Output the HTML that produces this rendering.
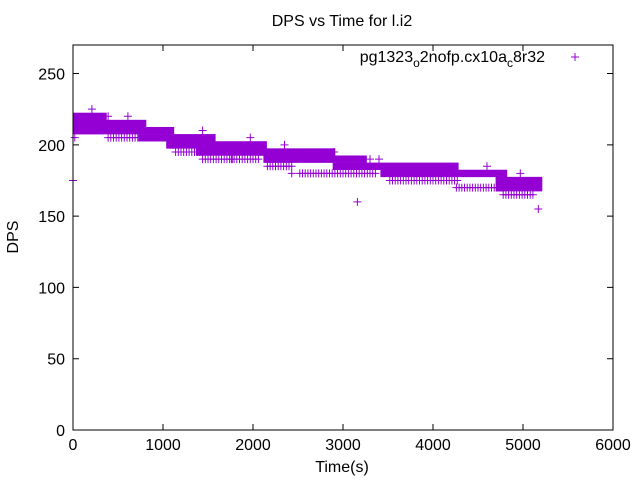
<!DOCTYPE html>
<html><head><meta charset="utf-8"><style>
body{margin:0;background:#fff}
svg text{font-family:"Liberation Sans",sans-serif;font-size:16px;fill:#000}
</style></head><body>
<svg id="chart" width="640" height="480" xmlns="http://www.w3.org/2000/svg">
<rect width="640" height="480" fill="#fff"/>
<text x="342" y="26" text-anchor="middle">DPS vs Time for l.i2</text>
<text transform="translate(18,237) rotate(-90)" text-anchor="middle">DPS</text>
<text x="342" y="472" text-anchor="middle">Time(s)</text>
<g id="marks"></g>
<g id="axes"></g>
<text x="545" y="62" text-anchor="end">pg1323<tspan dy="5" font-size="12">o</tspan><tspan dy="-5">2nofp.cx10a</tspan><tspan dy="5" font-size="12">c</tspan><tspan dy="-5">8r32</tspan></text>
<g stroke="#9400d3" stroke-width="1"><line x1="571" y1="57" x2="579" y2="57"/><line x1="575" y1="53" x2="575" y2="61"/></g>
</svg>
<script>
// dense bands: [tStart, tEnd, dpsLevel]
const bandStart=[45,45,45,770,1080,1410,2160,2930,3460,4740,4740];
const bandEnd=[330,770,1080,1540,2110,2870,3220,4240,4780,5170,5170];
const bandLevel=[220,215,210,205,200,195,190,185,180,175,170];
// sparse rows of outliers
const rowStart=[45,390,1080,1140,1440,1760,2160,2520,3520,4260,4780,2000];
const rowEnd=[330,730,1250,1440,1780,2060,2440,3370,4270,4780,5120,2150];
const rowLevel=[210,205,200,195,190,190,185,180,175,170,165,195];
// isolated points
const ptT=[210,390,610,20,0,1440,1970,2350,2430,3160,5170,4600,4970,3300,3400,2900];
const ptV=[225,220,220,205,175,210,205,200,180,160,155,185,180,190,190,195];
const xTicks=[0,1000,2000,3000,4000,5000,6000];
const yTicks=[0,50,100,150,200,250];

const X0=73,X1=613,Y0=430,Y1=45,XMAX=6000,YMAX=270;
const sx=t=>X0+t/XMAX*(X1-X0);
const sy=v=>Y0-v/YMAX*(Y0-Y1);
const NS="http://www.w3.org/2000/svg";
const marks=document.getElementById('marks');
const axes=document.getElementById('axes');
const col="#9400d3";
function mk(tag,attrs,parent){const e=document.createElementNS(NS,tag);for(const k in attrs)e.setAttribute(k,attrs[k]);parent.appendChild(e);return e;}
function plus(t,v){
  const x=sx(t),y=sy(v);
  const g=mk('path',{d:`M${x-4},${y}H${x+4}M${x},${y-4}V${y+4}`,stroke:col,'stroke-width':1,fill:'none'},marks);
  
  
}
for(let i=0;i<bandLevel.length;i++){
  const x1=sx(bandStart[i])-4,x2=sx(bandEnd[i])+4,y=sy(bandLevel[i]);
  const r=mk('rect',{x:x1,y:y-3.6,width:x2-x1,height:7.4,fill:col},marks);
  
  
}
for(let i=0;i<rowLevel.length;i++){
  for(let t=rowStart[i];t<=rowEnd[i];t+=30) plus(t,rowLevel[i]);
}
for(let i=0;i<ptT.length;i++) plus(ptT[i],ptV[i]);
const fr=mk('rect',{x:X0,y:Y1,width:X1-X0,height:Y0-Y1,fill:'none',stroke:'#000','stroke-width':1},axes);


xTicks.forEach(t=>{
  const x=sx(t);
  mk('path',{d:`M${x},${Y0}v-6M${x},${Y1}v6`,stroke:'#000'},axes);
  const tx=mk('text',{x:x,y:Y0+20,'text-anchor':'middle'},axes);
  tx.textContent=t;
  
  
});
yTicks.forEach(v=>{
  const y=sy(v);
  mk('path',{d:`M${X0},${y}h6M${X1},${y}h-6`,stroke:'#000'},axes);
  const tx=mk('text',{x:X0-8,y:y+6,'text-anchor':'end'},axes);
  tx.textContent=v;
  
  
});
</script>
</body></html>
